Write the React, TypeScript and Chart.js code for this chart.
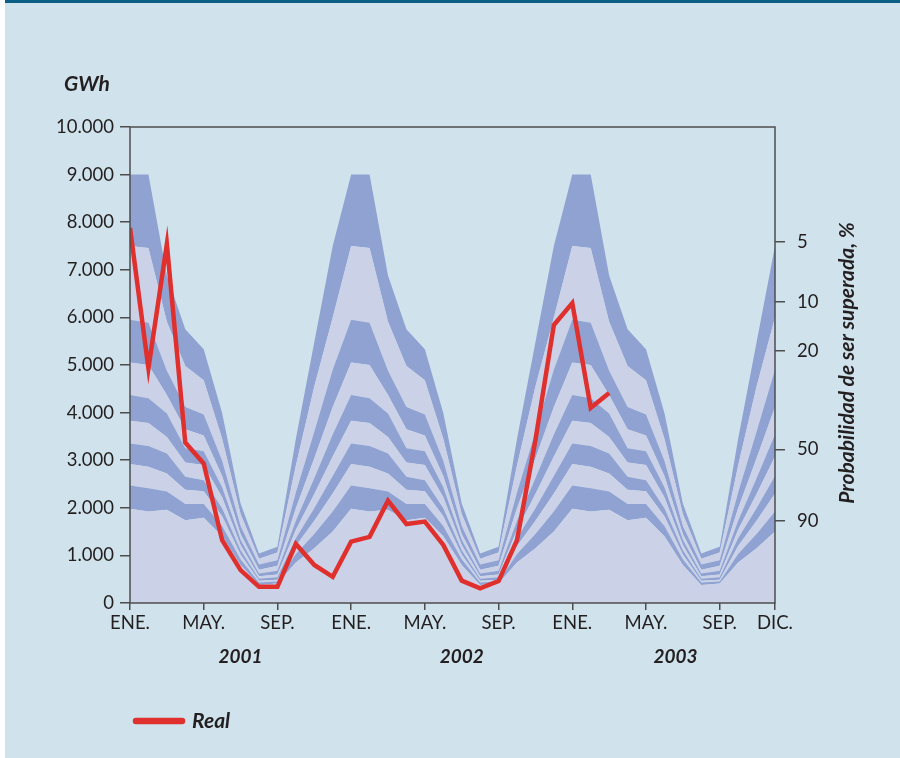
import React, { useEffect, useRef } from "react";
import { Chart, registerables } from "chart.js";

Chart.register(...registerables);

// x axis: month index 0 = ENE 2001 ... 35 = DIC 2003
const monthTicks = [0, 4, 8, 12, 16, 20, 24, 28, 32, 35];
const monthLabels = ["ENE.", "MAY.", "SEP.", "ENE.", "MAY.", "SEP.", "ENE.", "MAY.", "SEP.", "DIC."];
const yearLabels = ["2001", "2002", "2003"];
const yearCenters = [6, 18, 29.6];

// left axis (GWh)
const gwhTicks = [0, 1000, 2000, 3000, 4000, 5000, 6000, 7000, 8000, 9000, 10000];
// right axis: probability of exceedance, placed at GWh levels
const probLabels = ["5", "10", "20", "50", "90"];
const probAt = [7590, 6330, 5300, 3230, 1730];

// Yearly probability-band boundaries (ENE..DIC), GWh, top line to bottom line
const line1 = [9000, 9000, 6880, 5750, 5330, 3990, 2090, 1040, 1180, 3450, 5480, 7500];
const line2 = [7500, 7460, 5910, 4980, 4680, 3450, 1870, 930, 1060, 2890, 4550, 6000];
const line3 = [5950, 5890, 4880, 4120, 3960, 2990, 1620, 810, 900, 2320, 3600, 4900];
const line4 = [5050, 5000, 4370, 3650, 3520, 2670, 1450, 700, 780, 1990, 3040, 4120];
const line5 = [4370, 4300, 3980, 3250, 3190, 2430, 1330, 620, 680, 1730, 2620, 3540];
const line6 = [3830, 3780, 3490, 2950, 2900, 2220, 1220, 560, 600, 1540, 2290, 3080];
const line7 = [3350, 3300, 3140, 2650, 2580, 1990, 1110, 510, 540, 1360, 1990, 2670];
const line8 = [2920, 2860, 2720, 2380, 2350, 1820, 1020, 470, 490, 1200, 1730, 2300];
const line9 = [2470, 2410, 2340, 2080, 2080, 1620, 920, 430, 450, 1030, 1450, 1920];
const line10 = [1980, 1920, 1960, 1740, 1790, 1400, 800, 380, 410, 850, 1150, 1500];

// Real series, ENE 2001 .. MAR 2003
const real2001 = [7880, 4930, 7540, 3370, 2930, 1320, 690, 340, 340, 1240, 800, 550];
const real2002 = [1290, 1390, 2150, 1660, 1710, 1220, 470, 310, 460, 1320, 3420, 5840];
const real2003 = [6300, 4100, 4410];

const DARK = "#8fa2d2";
const LIGHT = "#cbd2e8";
const RED = "#e0302d";
const TEXT = "#231f20";
const AXIS = "#4d4d4d";
const FONT = "Lato, 'Open Sans', sans-serif";

export default function App() {
  const ref = useRef<HTMLCanvasElement>(null);

  useEffect(() => {
    const canvas = ref.current;
    if (!canvas) return;

    // same seasonal bands for each of the three years
    const threeYears = (p: number[]) => [...p, ...p, ...p];
    const toPts = (arr: number[]) => arr.map((v, i) => ({ x: i, y: v }));
    const bottomToTop = [line10, line9, line8, line7, line6, line5, line4, line3, line2, line1];
    const bandDatasets = bottomToTop.map((ln, k) => ({
      label: "b" + k,
      data: toPts(threeYears(ln)),
      borderWidth: 0,
      borderColor: "transparent",
      backgroundColor: k % 2 === 0 ? LIGHT : DARK,
      pointRadius: 0,
      tension: 0,
      fill: k === 0 ? "origin" : "-1",
    }));
    const real = [...real2001, ...real2002, ...real2003];

    const textPlugin = {
      id: "extraText",
      afterDatasetsDraw(chart: any) {
        const { ctx, chartArea } = chart;
        ctx.save();
        ctx.strokeStyle = AXIS;
        ctx.lineWidth = 1.5;
        ctx.strokeRect(chartArea.left, chartArea.top, chartArea.right - chartArea.left, chartArea.bottom - chartArea.top);
        ctx.restore();
      },
      afterDraw(chart: any) {
        const { ctx } = chart;
        const xs = chart.scales.x;
        ctx.save();
        ctx.fillStyle = TEXT;
        ctx.textBaseline = "middle";
        ctx.font = `italic bold 21px ${FONT}`;
        ctx.textAlign = "left";
        ctx.fillText("GWh", 64, 84);
        ctx.font = `italic bold 19px ${FONT}`;
        ctx.textAlign = "center";
        yearLabels.forEach((y, i) => {
          ctx.fillText(y, xs.getPixelForValue(yearCenters[i]), 657);
        });
        ctx.font = `italic bold 21px ${FONT}`;
        ctx.save();
        ctx.translate(847, 363);
        ctx.rotate(-Math.PI / 2);
        ctx.fillText("Probabilidad de ser superada, %", 0, 0);
        ctx.restore();
        // legend
        ctx.strokeStyle = RED;
        ctx.lineWidth = 6.5;
        ctx.lineCap = "round";
        ctx.beginPath();
        ctx.moveTo(136, 721);
        ctx.lineTo(182, 721);
        ctx.stroke();
        ctx.textAlign = "left";
        ctx.fillText("Real", 192, 721);
        ctx.restore();
      },
    };

    const chart = new Chart(canvas, {
      type: "line",
      data: {
        datasets: [
          {
            label: "Real",
            data: toPts(real),
            borderColor: RED,
            borderWidth: 4.5,
            borderJoinStyle: "miter",
            pointRadius: 0,
            fill: false,
            tension: 0,
          },
          ...bandDatasets,
        ] as any,
      },
      options: {
        animation: false,
        responsive: false,
        layout: { padding: { top: 127, left: 0, right: 0, bottom: 0 } },
        plugins: { legend: { display: false }, tooltip: { enabled: false } },
        scales: {
          x: {
            type: "linear",
            min: 0,
            max: 35,
            afterBuildTicks: (s: any) => {
              s.ticks = monthTicks.map((v) => ({ value: v }));
            },
            afterFit: (s: any) => {
              s.height = 155;
            },
            ticks: {
              autoSkip: false,
              maxRotation: 0,
              padding: 2,
              color: TEXT,
              font: { family: FONT, size: 18.5 },
              callback: (_v: any, i: number) => monthLabels[i],
            },
            grid: { drawOnChartArea: false, drawTicks: true, tickLength: 7, color: AXIS, lineWidth: 1.5 },
            border: { display: false },
          },
          y: {
            type: "linear",
            position: "left",
            min: 0,
            max: 10000,
            afterBuildTicks: (s: any) => {
              s.ticks = gwhTicks.map((v) => ({ value: v }));
            },
            afterFit: (s: any) => {
              s.width = 130;
            },
            ticks: {
              padding: 6,
              color: TEXT,
              font: { family: FONT, size: 18.5 },
              callback: (v: any) => (v === 0 ? "0" : Number(v).toLocaleString("de-DE")),
            },
            grid: { drawOnChartArea: false, drawTicks: true, tickLength: 10, color: AXIS, lineWidth: 1.5 },
            border: { display: false },
          },
          y2: {
            type: "linear",
            position: "right",
            min: 0,
            max: 10000,
            afterBuildTicks: (s: any) => {
              s.ticks = probAt.map((v) => ({ value: v }));
            },
            afterFit: (s: any) => {
              s.width = 125;
            },
            ticks: {
              padding: 12,
              color: TEXT,
              font: { family: FONT, size: 18.5 },
              callback: (_v: any, i: number) => probLabels[i],
            },
            grid: { drawOnChartArea: false, drawTicks: true, tickLength: 10, color: AXIS, lineWidth: 1.5 },
            border: { display: false },
          },
        },
      } as any,
      plugins: [textPlugin],
    });

    return () => chart.destroy();
  }, []);

  return (
    <div style={{ position: "fixed", left: 0, top: 0, width: 900, height: 758, background: "#ffffff" }}>
      <div
        style={{
          position: "absolute",
          left: 5,
          top: 0,
          right: 0,
          bottom: 0,
          background: "#d0e3ec",
          borderTop: "3px solid #0b5e84",
        }}
      />
      <canvas
        ref={ref}
        width={900}
        height={758}
        style={{ position: "absolute", left: 0, top: 0, width: 900, height: 758 }}
      />
    </div>
  );
}
